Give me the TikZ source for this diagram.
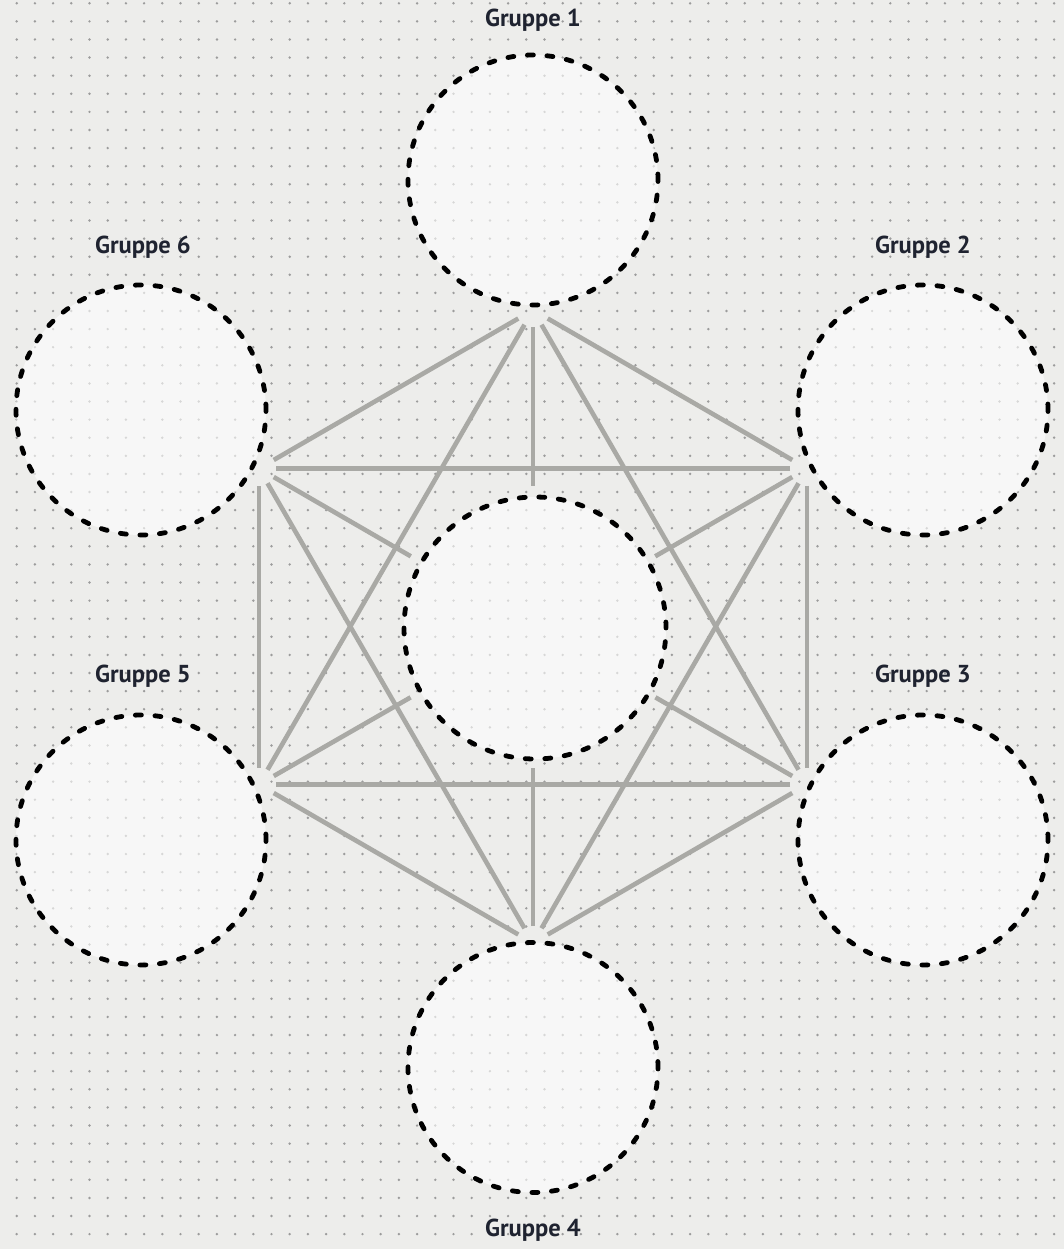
\documentclass[tikz,border=0pt]{standalone}
\usepackage{fontspec}
\newfontfamily\lblfont{PT Sans Bold}
\definecolor{bgcol}{HTML}{EDEDEB}
\definecolor{dotcol}{HTML}{9C9C9C}
\definecolor{linegray}{HTML}{A9A9A5}
\definecolor{labelcol}{HTML}{1F2330}
\begin{document}
\begin{tikzpicture}[x=1pt,y=-1pt,
  grp/.style={circle, minimum size=250pt, inner sep=0pt, draw=black, line width=4.8pt,
    dash pattern=on 6pt off 13.6pt, line cap=round, fill=white, fill opacity=0.6},
  link/.style={draw=linegray, line width=4.6pt},
  vlink/.style={link, shorten <=17pt, shorten >=17pt},
  hlink/.style={link, shorten <=17pt},
  lbl/.style={text=labelcol, font=\lblfont\fontsize{24.5}{30}\selectfont, inner sep=0pt}]
\useasboundingbox (0,0) rectangle (1064,1249);
\fill[bgcol] (0,0) rectangle (1064,1249);
% dot grid
\foreach \i in {0,...,58}{
  \foreach \j in {0,...,68}{
    \fill[dotcol] (16.7+18.2*\i, 3.3+18.1*\j) circle (1.35pt);
  }
}
% hexagon vertices
\coordinate (v1) at (533,310);
\coordinate (v2) at (807,468.5);
\coordinate (v3) at (807,784.5);
\coordinate (v4) at (533,943);
\coordinate (v5) at (259,784.5);
\coordinate (v6) at (259,468.5);
\node[circle, minimum size=282pt, inner sep=0pt] (cgap) at (533,627) {};
% connectors
\draw[vlink] (v1) -- (v2);
\draw[vlink] (v1) -- (v3);
\draw[vlink] (v1) -- (v5);
\draw[vlink] (v1) -- (v6);
\draw[vlink] (v2) -- (v3);
\draw[vlink] (v2) -- (v4);
\draw[vlink] (v2) -- (v6);
\draw[vlink] (v3) -- (v4);
\draw[vlink] (v3) -- (v5);
\draw[vlink] (v4) -- (v5);
\draw[vlink] (v4) -- (v6);
\draw[vlink] (v5) -- (v6);
\draw[hlink] (v1) -- (cgap);
\draw[hlink] (v4) -- (cgap);
\draw[hlink] (v2) -- (cgap);
\draw[hlink] (v5) -- (cgap);
\draw[hlink] (v3) -- (cgap);
\draw[hlink] (v6) -- (cgap);
% circles
\node[grp] (g1) at (533,180) {};
\node[grp] (g2) at (923,410) {};
\node[grp] (g3) at (923,840) {};
\node[grp] (g4) at (533,1067.5) {};
\node[grp] (g5) at (141,840) {};
\node[grp] (g6) at (141,410) {};
\node[grp, minimum size=262pt] (cen) at (535,628) {};
% labels
\node[lbl] (l1) at (533,20) {Gruppe 1};
\node[lbl] (l2) at (923,247) {Gruppe 2};
\node[lbl] (l3) at (923,676) {Gruppe 3};
\node[lbl] (l4) at (533,1230) {Gruppe 4};
\node[lbl] (l5) at (143,676) {Gruppe 5};
\node[lbl] (l6) at (143,247) {Gruppe 6};
\end{tikzpicture}
\end{document}
